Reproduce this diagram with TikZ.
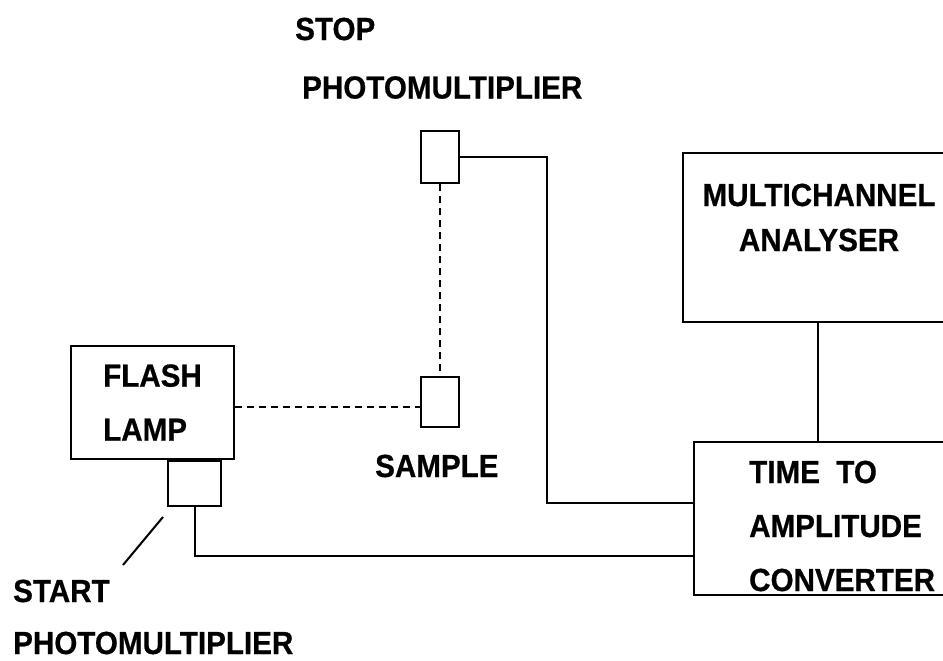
\documentclass[tikz,border=0pt]{standalone}
\usepackage{fontspec}
\setmainfont[FakeStretch=0.925,FakeBold=0.6]{Liberation Sans}
\usetikzlibrary{positioning,calc}

\begin{document}
\begin{tikzpicture}[x=1pt,y=-1pt,
    unitbox/.style={draw,line width=2.8pt,inner sep=0pt},
    pmtbox/.style={unitbox},
    lbl/.style={inner sep=0pt,anchor=west,font=\bfseries\fontsize{32}{54}\selectfont},
    wire/.style={line width=2pt},
    beam/.style={line width=2pt,dash pattern=on 7pt off 5pt}]
  \useasboundingbox (0,0) rectangle (943,661);
  \clip (0,0) rectangle (943,661);
  %% Flash lamp and start photomultiplier
  \node[unitbox,minimum width=163pt,minimum height=113pt,align=left,
        font=\bfseries\fontsize{32}{54}\selectfont]
        (lamp) at (152.5,402.5) {FLASH\\LAMP};
  \node[pmtbox,minimum width=53pt,minimum height=45pt] (startpmt) at (194.5,483.5) {};
  %% Sample and stop photomultiplier
  \node[pmtbox,minimum width=38pt,minimum height=50pt] (sample) at (440,402) {};
  \node[pmtbox,minimum width=38pt,minimum height=52pt] (stoppmt) at (440,157) {};
  %% Electronics
  \node[unitbox,minimum width=270pt,minimum height=169pt] (mca) at (818,237.5) {};
  \node[unitbox,minimum width=261pt,minimum height=153pt] (tac) at (824.5,518.5) {};

  %% Labels
  \node[lbl] (stoplbl) at (295,29) {STOP};
  \node[lbl] (stoppmlbl) at (302,87.5) {PHOTOMULTIPLIER};
  \node[lbl] (samplelbl) at (375,466) {SAMPLE};
  \node[lbl] (startlbl) at (13,591) {START};
  \node[lbl] (startpmlbl) at (13,643) {PHOTOMULTIPLIER};
  \node[lbl,anchor=center,align=center,font=\bfseries\fontsize{32}{45}\selectfont]
        (mcalbl) at (819,217.5) {MULTICHANNEL\\ANALYSER};
  \node[lbl,align=left] (taclbl) at (749,526) {TIME\ \ TO\\AMPLITUDE\\CONVERTER};

  %% Light paths
  \draw[beam] (lamp.east |- 0,406.5) -- ([yshift=-4.5pt]sample.west);
  \draw[beam] (stoppmt.south) -- (sample.north);

  %% Signal cables
  \draw[wire] (stoppmt.east) -- ++(87,0) |- ([yshift=15.5pt]tac.west);
  \draw[wire] (startpmt.south) |- ([yshift=-37.5pt]tac.west);
  \draw[wire] (mca.south) -- (mca.south |- tac.north);

  %% Pointer to start photomultiplier
  \coordinate (leadtop) at (163,517);
  \coordinate (leadbot) at (123,565);
  \draw[wire] (leadtop) -- (leadbot);
\end{tikzpicture}
\end{document}
